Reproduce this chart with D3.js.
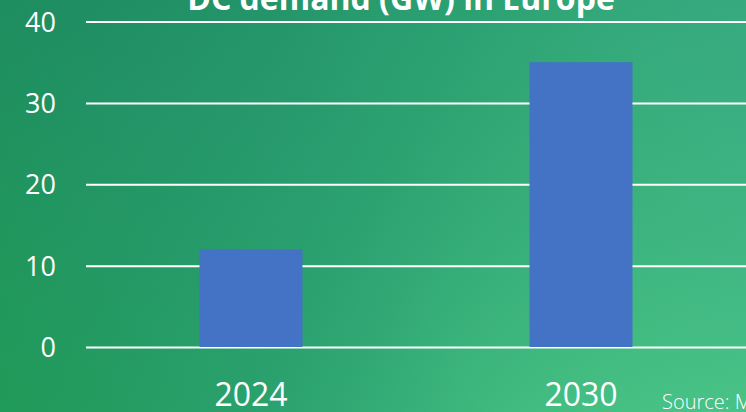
<!DOCTYPE html>
<html>
<head>
<meta charset="utf-8">
<script src="https://cdn.jsdelivr.net/npm/d3@7"></script>
<style>
  html, body { margin: 0; padding: 0; overflow: hidden; }
  svg { display: block; }
</style>
</head>
<body>
<div id="chart"></div>
<script>
const years = ['2024', '2030'];
const demand = [12, 35];
const yTicks = [0, 10, 20, 30, 40];
const titleText = 'DC demand (GW) in Europe';
const sourceText = 'Source: McKinsey';

const width = 746;
const height = 412;
const margin = { top: 21.5, right: 0, bottom: 65, left: 86 };

const svg = d3.select('#chart').append('svg')
  .attr('width', width)
  .attr('height', height);

// background gradient
const defs = svg.append('defs');
const bg = defs.append('linearGradient')
  .attr('id', 'bg')
  .attr('gradientUnits', 'userSpaceOnUse')
  .attr('x1', 0).attr('y1', 0)
  .attr('x2', width).attr('y2', height);
bg.append('stop').attr('offset', '0%').attr('stop-color', '#1a8460');
bg.append('stop').attr('offset', '50%').attr('stop-color', '#2ca271');
bg.append('stop').attr('offset', '100%').attr('stop-color', '#56d38e');

const tint = defs.append('linearGradient')
  .attr('id', 'tint')
  .attr('gradientUnits', 'userSpaceOnUse')
  .attr('x1', 0).attr('y1', height)
  .attr('x2', width).attr('y2', 0);
tint.append('stop').attr('offset', '0%').attr('stop-color', '#1fa04c').attr('stop-opacity', 0.6);
tint.append('stop').attr('offset', '50%').attr('stop-color', '#2ca271').attr('stop-opacity', 0);
tint.append('stop').attr('offset', '100%').attr('stop-color', '#2e9c80').attr('stop-opacity', 0.6);

svg.append('rect').attr('width', width).attr('height', height).attr('fill', 'url(#bg)');
svg.append('rect').attr('width', width).attr('height', height).attr('fill', 'url(#tint)');

const x = d3.scaleBand()
  .domain(years)
  .range([margin.left, width - margin.right])
  .paddingInner(0.688)
  .paddingOuter(0.344);

const y = d3.scaleLinear()
  .domain([0, 40])
  .range([347, margin.top]);

// gridlines + y labels
const yAxis = svg.append('g')
  .attr('transform', `translate(${margin.left},0)`)
  .call(d3.axisLeft(y)
    .tickValues(yTicks)
    .tickSize(-(width - margin.left))
    .tickPadding(30));

yAxis.select('.domain').remove();
yAxis.selectAll('.tick line')
  .attr('stroke', '#ffffff')
  .attr('stroke-width', 2);
yAxis.selectAll('.tick text')
  .attr('fill', '#ffffff')
  .attr('font-family', '"Open Sans", sans-serif')
  .attr('font-size', 27)
  .attr('dy', '0.36em');

// bars
svg.append('g')
  .selectAll('rect')
  .data(demand)
  .join('rect')
  .attr('x', (d, i) => x(years[i]))
  .attr('y', d => y(d))
  .attr('width', x.bandwidth())
  .attr('height', d => y(0) - y(d))
  .attr('fill', '#4472c4');

// x labels
const xAxis = svg.append('g')
  .attr('transform', 'translate(0,347)')
  .call(d3.axisBottom(x).tickSize(0).tickPadding(0));

xAxis.select('.domain').remove();
xAxis.selectAll('.tick text')
  .attr('fill', '#ffffff')
  .attr('font-family', '"Open Sans", sans-serif')
  .attr('font-size', 32)
  .attr('y', 59)
  .attr('dy', 0);

// title (cut off at top as in original)
svg.append('text')
  .text(titleText)
  .attr('x', 401)
  .attr('y', 10)
  .attr('text-anchor', 'middle')
  .attr('fill', '#ffffff')
  .attr('font-family', '"Open Sans", sans-serif')
  .attr('font-weight', 'bold')
  .attr('font-size', 32);

// source
svg.append('text')
  .text(sourceText)
  .attr('x', 662)
  .attr('y', 409)
  .attr('fill', '#ffffff')
  .attr('font-family', '"Open Sans", sans-serif')
  .attr('font-weight', 300)
  .attr('font-size', 20);
</script>
</body>
</html>
